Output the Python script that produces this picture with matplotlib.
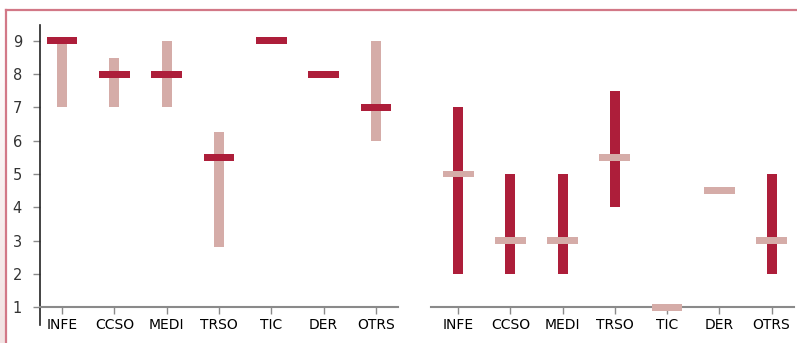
import matplotlib
matplotlib.use("Agg")
import matplotlib.pyplot as plt
import numpy as np
from matplotlib.lines import Line2D

categories = ["INFE", "CCSO", "MEDI", "TRSO", "TIC", "DER", "OTRS"]
left_low = [7, 7, 7, 2.8, np.nan, np.nan, 6]
left_high = [9, 8.5, 9, 6.25, np.nan, np.nan, 9]
left_med = [9, 8, 8, 5.5, 9, 8, 7]
right_low = [2, 2, 2, 4, np.nan, np.nan, 2]
right_high = [7, 5, 5, 7.5, np.nan, np.nan, 5]
right_med = [5, 3, 3, 5.5, 1, 4.5, 3]
yticks = [1, 2, 3, 4, 5, 6, 7, 8, 9]

DARK = "#AD1E3A"
PINK = "#D5ACA8"
TXT = "#333333"

plt.rcParams['font.family'] = ['DejaVu Sans']

W, H = 797, 343
fig = plt.figure(figsize=(W / 100, H / 100), dpi=100)

# left light strip with gradient
bg = fig.add_axes([0, 0, 5 / W, 1 - 10 / H], zorder=0)
grad = np.linspace(0, 1, 100).reshape(-1, 1)
from matplotlib.colors import LinearSegmentedColormap
cm = LinearSegmentedColormap.from_list("g", ["#F2E3E3", "#FFFFFF"])
bg.imshow(grad, aspect="auto", cmap=cm, origin="lower", extent=[0, 1, 0, 1])
bg.axis("off")

# border lines
fig.add_artist(Line2D([5.5 / W, 1], [1 - 9.5 / H, 1 - 9.5 / H], color="#D27887", lw=1.6, transform=fig.transFigure))
fig.add_artist(Line2D([5.5 / W, 5.5 / W], [0, 1 - 9.5 / H], color="#D27887", lw=1.6, transform=fig.transFigure))

ylo, yhi = 0.46, 9.48
bottom = (H - 325) / H
height = 300 / H

axL = fig.add_axes([40 / W, bottom, 358 / W, height])
axR = fig.add_axes([431 / W, bottom, 363 / W, height])

x = np.arange(len(categories))
vw = 0.19
hw = 0.59
hh = 0.21


def draw(ax, low, high, med, vcol, hcol):
    for i in range(len(categories)):
        if not np.isnan(low[i]):
            ax.bar(x[i], high[i] - low[i], bottom=low[i], width=vw, color=vcol, zorder=2)
        ax.bar(x[i], hh, bottom=med[i] - hh / 2, width=hw, color=hcol, zorder=3, clip_on=False)


draw(axL, left_low, left_high, left_med, PINK, DARK)
draw(axR, right_low, right_high, right_med, DARK, PINK)

for ax, xl in ((axL, (-0.42, 6.42)), (axR, (-0.52, 6.43))):
    ax.set_xlim(*xl)
    ax.set_ylim(ylo, yhi)
    ax.set_xticks(x)
    ax.set_xticklabels(categories, fontsize=10, color=TXT)
    ax.spines['top'].set_visible(False)
    ax.spines['right'].set_visible(False)
    ax.spines['bottom'].set_position(('data', 1))
    ax.spines['bottom'].set_color("#8A8A8A")
    ax.spines['bottom'].set_linewidth(1.5)
    ax.spines['bottom'].set_zorder(2.5)
    ax.tick_params(axis='x', length=5, width=1, color="#8A8A8A", pad=3)
    ax.patch.set_alpha(0)

axL.set_yticks(yticks)
axL.set_yticklabels([str(v) for v in yticks], fontsize=10.5, color=TXT)
axL.spines['left'].set_color("#222222")
axL.spines['left'].set_linewidth(1.2)
axL.tick_params(axis='y', length=5, width=1, color="#8A8A8A", pad=8)

axR.spines['left'].set_visible(False)
axR.set_yticks([])

fig.savefig("out.png", dpi=100)
